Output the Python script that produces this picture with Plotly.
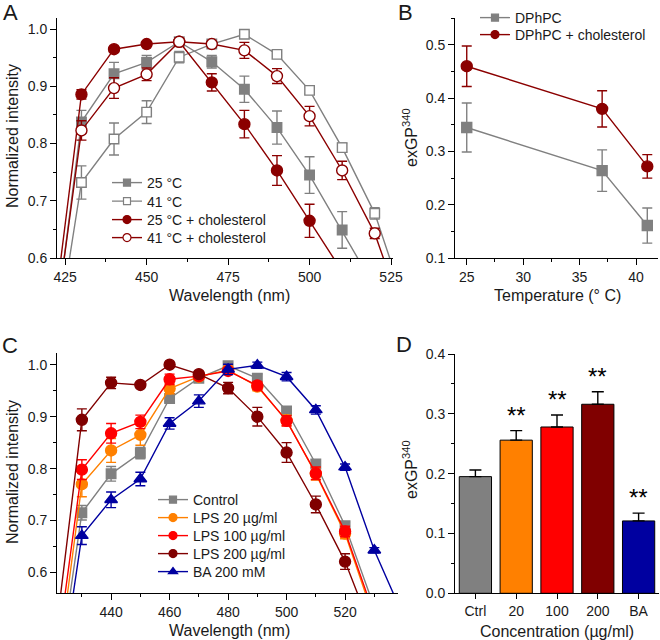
import plotly.graph_objects as go

# ---------------- data ----------------
# Panel A: wavelength scans of DPhPC vesicles
wl_A = [420, 430, 440, 450, 460, 470, 480, 490, 500, 510, 520, 530]
a_25 = [0.39, 0.838, 0.922, 0.942, 0.978, 0.943, 0.895, 0.828, 0.745, 0.649, 0.551, 0.45]
a_25_err = [0, 0.02, 0.020, 0.012, 0.005, 0.011, 0.023, 0.029, 0.032, 0.032, 0, 0]
a_41 = [0.37, 0.732, 0.808, 0.855, 0.951, 0.974, 0.991, 0.956, 0.893, 0.793, 0.678, 0.508]
a_41_err = [0, 0.029, 0.028, 0.020, 0.010, 0.005, 0.004, 0.004, 0.006, 0.008, 0.010, 0]
a_25c = [0.431, 0.886, 0.965, 0.974, 0.978, 0.907, 0.834, 0.753, 0.665, 0.577, 0.49, 0.40]
a_25c_err = [0, 0.008, 0.005, 0.004, 0.005, 0.015, 0.024, 0.026, 0.029, 0, 0, 0]
a_41c = [0.40, 0.823, 0.897, 0.921, 0.978, 0.974, 0.963, 0.918, 0.848, 0.753, 0.643, 0.48]
a_41c_err = [0, 0.017, 0.018, 0.011, 0.006, 0.005, 0.014, 0.013, 0.017, 0.016, 0.009, 0]
names_A = ["25 °C", "41 °C", "25 °C + cholesterol", "41 °C + cholesterol"]

# Panel B: exGP340 vs temperature
temps = [25, 37, 41]
b_dphpc = [0.345, 0.264, 0.161]
b_dphpc_err = [0.046, 0.039, 0.033]
b_chol = [0.460, 0.380, 0.272]
b_chol_err = [0.038, 0.034, 0.022]
names_B = ["DPhPC", "DPhPC + cholesterol"]

# Panel C: wavelength scans with LPS / BA
wl_C = [420, 430, 440, 450, 460, 470, 480, 490, 500, 510, 520, 530, 540]
c_ctrl = [0.326, 0.715, 0.790, 0.830, 0.935, 0.974, 0.998, 0.974, 0.911, 0.809, 0.690, 0.533, None]
c_ctrl_err = [0, 0.014, 0.014, 0.011, 0.006, 0.005, 0.006, 0.008, 0.008, 0.008, 0.007, 0, 0]
c_lps20 = [0.341, 0.770, 0.835, 0.865, 0.954, 0.977, 0.990, 0.958, 0.893, 0.790, 0.675, 0.51, None]
c_lps20_err = [0, 0.024, 0.023, 0.020, 0.010, 0.005, 0.006, 0.008, 0.010, 0.012, 0.010, 0, 0]
c_lps100 = [0.381, 0.798, 0.868, 0.890, 0.972, 0.978, 0.988, 0.960, 0.892, 0.791, 0.679, 0.518, None]
c_lps100_err = [0, 0.019, 0.019, 0.013, 0.010, 0.005, 0.006, 0.008, 0.010, 0.012, 0.010, 0, 0]
c_lps200 = [0.431, 0.894, 0.965, 0.961, 1.000, 0.982, 0.955, 0.900, 0.831, 0.731, 0.621, 0.477, None]
c_lps200_err = [0, 0.021, 0.011, 0.005, 0.004, 0.005, 0.011, 0.018, 0.019, 0.016, 0.015, 0, 0]
c_ba = [0.291, 0.671, 0.740, 0.780, 0.887, 0.930, 0.991, 0.999, 0.977, 0.913, 0.803, 0.643, 0.515]
c_ba_err = [0, 0.017, 0.015, 0.013, 0.011, 0.012, 0.010, 0.006, 0.008, 0.008, 0.006, 0.005, 0]
names_C = ["Control", "LPS 20 µg/ml", "LPS 100 µg/ml", "LPS 200 µg/ml", "BA 200 mM"]

# Panel D: exGP340 bars
cats_D = ["Ctrl", "20", "100", "200", "BA"]
d_vals = [0.195, 0.256, 0.278, 0.316, 0.121]
d_errs = [0.011, 0.016, 0.020, 0.021, 0.013]
d_sig = ["", "**", "**", "**", "**"]

# ---------------- styling ----------------
W, H = 660, 640
FONT = "Arial, Liberation Sans, sans-serif"
TXT = "#1a1a1a"
GRAY = "#808080"
DRED = "#8B0000"
ORANGE = "#FF8000"
RED = "#FF0000"
MAROON = "#800000"
BLUE = "#0000A0"


def fx(p):
    return p / W


def fy(p):
    return 1 - p / H


fig = go.Figure()
legend_layouts = {}
legend_counter = [0]


def add_series(x, y, err, color, symbol, size, fill, xa, ya, name, lsize, leg_x, leg_y):
    fig.add_trace(go.Scatter(
        x=x, y=y, mode="lines+markers", xaxis=xa, yaxis=ya, showlegend=False,
        line=dict(color=color, width=1.4),
        marker=dict(symbol=symbol, size=size, color=fill, line=dict(color=color, width=1.4)),
        error_y=dict(type="data", array=err, color=color, thickness=1.4, width=5),
        cliponaxis=True,
    ))
    # legend entry: each entry gets its own small legend so the spacing matches the original
    legend_counter[0] += 1
    key = "legend" if legend_counter[0] == 1 else f"legend{legend_counter[0]}"
    legend_layouts[key] = dict(
        x=fx(leg_x), y=fy(leg_y), xanchor="left", yanchor="middle", bgcolor="rgba(0,0,0,0)",
        font=dict(family=FONT, size=14, color=TXT), itemwidth=30, borderwidth=0,
    )
    fig.add_trace(go.Scatter(
        x=[None], y=[None], mode="lines+markers", xaxis=xa, yaxis=ya, name=name,
        legend=key, showlegend=True,
        line=dict(color=color, width=1.4),
        marker=dict(symbol=symbol, size=lsize, color=fill, line=dict(color=color, width=1.2)),
    ))


# Panel A
add_series(wl_A, a_25, a_25_err, GRAY, "square", 9.5, GRAY, "x", "y", names_A[0], 7, 107, 183)
add_series(wl_A, a_41, a_41_err, GRAY, "square", 9.5, "white", "x", "y", names_A[1], 7, 107, 201.5)
add_series(wl_A, a_25c, a_25c_err, DRED, "circle", 11, DRED, "x", "y", names_A[2], 8, 107, 220)
add_series(wl_A, a_41c, a_41c_err, DRED, "circle", 11, "white", "x", "y", names_A[3], 8, 107, 238)

# Panel B
add_series(temps, b_dphpc, b_dphpc_err, GRAY, "square", 10, GRAY, "x2", "y2", names_B[0], 7, 475, 18)
add_series(temps, b_chol, b_chol_err, DRED, "circle", 11, DRED, "x2", "y2", names_B[1], 8, 475, 35)

# Panel C
add_series(wl_C, c_ctrl, c_ctrl_err, GRAY, "square", 9.5, GRAY, "x3", "y3", names_C[0], 7, 153, 500)
add_series(wl_C, c_lps20, c_lps20_err, ORANGE, "circle", 11, ORANGE, "x3", "y3", names_C[1], 8, 153, 518)
add_series(wl_C, c_lps100, c_lps100_err, RED, "circle", 11, RED, "x3", "y3", names_C[2], 8, 153, 536)
add_series(wl_C, c_lps200, c_lps200_err, MAROON, "circle", 11, MAROON, "x3", "y3", names_C[3], 8, 153, 554)
add_series(wl_C, c_ba, c_ba_err, BLUE, "triangle-up", 11, BLUE, "x3", "y3", names_C[4], 8, 153, 572)

# Panel D
fig.add_trace(go.Bar(
    x=cats_D, y=d_vals, xaxis="x4", yaxis="y4", showlegend=False, width=0.79,
    marker=dict(color=[GRAY, ORANGE, RED, MAROON, BLUE], line=dict(color="black", width=1)),
    error_y=dict(type="data", symmetric=False, array=d_errs, arrayminus=[0] * len(d_errs),
                 color="black", thickness=1.4, width=6),
))

# significance stars (x given as category index)
for i, (v, e, s) in enumerate(zip(d_vals, d_errs, d_sig)):
    if s:
        fig.add_annotation(x=i, y=v + e, xref="x4", yref="y4", text=s, showarrow=False,
                           yanchor="bottom", font=dict(size=24, family=FONT, color="black"))

# axes
tickfont = dict(family=FONT, size=14, color=TXT)


def axis(domain, rng, dtick, minor_dtick, anchor, tick0=None, fmt=None):
    d = dict(domain=domain, range=rng, dtick=dtick, anchor=anchor, showline=True,
             linecolor="black", linewidth=1, ticks="outside", ticklen=6, tickwidth=1,
             tickcolor="black", showgrid=False, zeroline=False, tickfont=tickfont,
             automargin=False, fixedrange=True,
             minor=dict(dtick=minor_dtick, ticks="outside", ticklen=3, tickcolor="black",
                        tickwidth=1, showgrid=False))
    if tick0 is not None:
        d["tick0"] = tick0
    if fmt:
        d["tickformat"] = fmt
    return d


fig.update_layout(
    width=W, height=H, margin=dict(l=0, r=0, t=0, b=0),
    paper_bgcolor="white", plot_bgcolor="white",
    font=dict(family=FONT, size=14, color=TXT),
    xaxis=axis([fx(57), fx(393)], [422.5, 525.6], 25, 12.5, "y", tick0=425),
    yaxis=axis([fy(258), fy(18.3)], [0.6, 1.019], 0.1, 0.05, "x", fmt=".1f"),
    xaxis2=axis([fx(455), fx(658)], [23.96, 41.95], 5, 2.5, "y2", tick0=25),
    yaxis2=axis([fy(258), fy(18.3)], [0.1, 0.55], 0.1, 0.05, "x2", fmt=".1f"),
    xaxis3=axis([fx(57), fx(398.3)], [421.5, 538.2], 20, 10, "y3", tick0=440),
    yaxis3=axis([fy(593.3), fy(353.3)], [0.56, 1.022], 0.1, 0.05, "x3", fmt=".1f"),
    xaxis4=dict(domain=[fx(455), fx(659)], range=[-0.5, 4.5], anchor="y4", showline=True,
                linecolor="black", linewidth=1, ticks="outside", ticklen=5, tickcolor="black",
                showgrid=False, zeroline=False, tickfont=tickfont, automargin=False,
                type="category", fixedrange=True),
    yaxis4=axis([fy(593.3), fy(354)], [0, 0.4], 0.1, 0.05, "x4", fmt=".1f"),
    bargap=0.2,
    **legend_layouts,
)

# axis titles and panel labels as text annotations
titles = [
    ("Wavelength (nm)", 229, 295, 0),
    ("Normalized intensity", 12, 136, -90),
    ("Temperature (° C)", 557, 295, 0),
    ("exGP<sup>340</sup>", 410, 138, -90),
    ("Wavelength (nm)", 229, 630, 0),
    ("Normalized intensity", 12, 472, -90),
    ("Concentration (µg/ml)", 557, 631, 0),
    ("exGP<sup>340</sup>", 410, 470, -90),
]
for t, px, py, ang in titles:
    fig.add_annotation(x=fx(px), y=fy(py), xref="paper", yref="paper", text=t, showarrow=False,
                       textangle=ang, xanchor="center", yanchor="middle",
                       font=dict(family=FONT, size=16, color=TXT))

for lab, px, py in [("A", 10, 12), ("B", 405, 12), ("C", 10, 345), ("D", 404, 344)]:
    fig.add_annotation(x=fx(px), y=fy(py), xref="paper", yref="paper", text=lab, showarrow=False,
                       xanchor="center", yanchor="middle",
                       font=dict(family=FONT, size=22, color=TXT))

# remove the default page margin so the 660x640 figure fills the window exactly
fig.write_html("out.html", config={"displayModeBar": False},
               post_script="document.body.style.margin='0';")
